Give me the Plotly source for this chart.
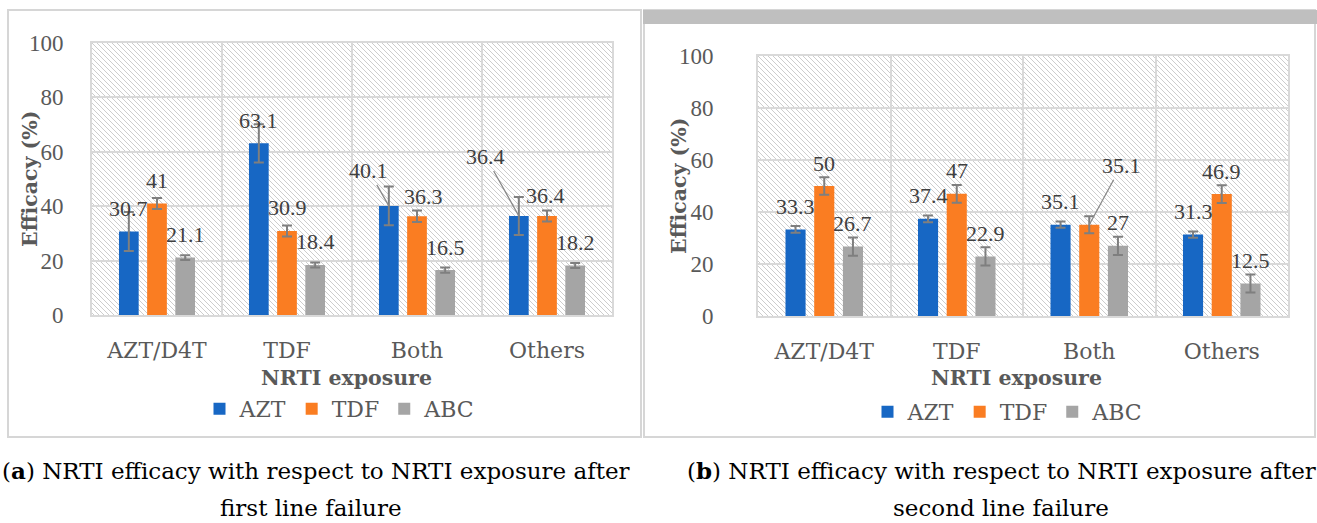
import base64
import plotly.graph_objects as go

# ---------------- data ----------------
categories = ["AZT/D4T", "TDF", "Both", "Others"]
series_names = ["AZT", "TDF", "ABC"]
y_ticks = [0, 20, 40, 60, 80, 100]

# (a) after first line failure
a_azt = [30.7, 63.1, 40.1, 36.4]
a_tdf = [41, 30.9, 36.3, 36.4]
a_abc = [21.1, 18.4, 16.5, 18.2]
a_azt_err = [7.2, 7.0, 7.1, 7.0]
a_tdf_err = [2.0, 2.0, 2.1, 2.0]
a_abc_err = [0.9, 0.9, 1.0, 0.9]

# (b) after second line failure
b_azt = [33.3, 37.4, 35.1, 31.3]
b_tdf = [50, 47, 35.1, 46.9]
b_abc = [26.7, 22.9, 27, 12.5]
b_azt_err = [1.3, 1.3, 1.2, 1.2]
b_tdf_err = [3.4, 3.4, 3.3, 3.4]
b_abc_err = [3.5, 3.5, 3.5, 3.5]

caption_lines = [
    ["(<b>a</b>) NRTI efficacy with respect to NRTI exposure after", "first line failure"],
    ["(<b>b</b>) NRTI efficacy with respect to NRTI exposure after", "second line failure"],
]
y_title = "Efficacy (%)"
x_title = "NRTI exposure"

# ---------------- style ----------------
W, H = 1317, 523
colors = ["#1767C4", "#FA7D22", "#A5A5A5"]
NUM_FONT = "Liberation Serif"
TXT_FONT = "DejaVu Serif"
GRID = "#d9d9d9"
TICK_C = "#595959"
LABEL_C = "#404040"
ERR_C = "#7f7f7f"
BARGAP = 0.35
GROUPGAP = 0.30

# plot areas in pixels: (left, top, right, bottom)
areas = [(92, 43, 612, 315), (758, 56, 1288, 316)]
ytitle_x = [30, 679]
xtitle_x = [347, 1016]
legend_pos = [(340, 409), (1008, 412)]
caption_x = [[316, 311], [1001, 1001]]
caption_y = [470, 508]

# leader-line labels: (panel, series, category) -> (ax, ay) pixels from bar top
arrow_labels = {(0, 0, 2): (-20, -35), (0, 0, 3): (-33, -59), (1, 1, 2): (32, -59)}
# small tweaks for plain labels: (panel, series, category) -> (dx, dy)
label_tweaks = {(0, 1, 2): (6, 20), (0, 1, 3): (-2, 20)}
LABEL_DY = 23


def px_domain(a):
    l, t, r, b = a
    return [l / W, r / W], [1 - b / H, 1 - t / H]


def hatch_uri(w, h):
    svg = (
        f'<svg xmlns="http://www.w3.org/2000/svg" width="{w}" height="{h}">'
        '<defs><pattern id="p" width="5" height="5" patternUnits="userSpaceOnUse">'
        '<path d="M0,0 L5,5 M-1,4 L1,6 M4,-1 L6,1" stroke="#cdcdcd" stroke-width="1"/>'
        '</pattern></defs>'
        f'<rect width="{w}" height="{h}" fill="white"/>'
        f'<rect width="{w}" height="{h}" fill="url(#p)"/></svg>'
    )
    return "data:image/svg+xml;base64," + base64.b64encode(svg.encode()).decode()


panels = [
    ([a_azt, a_tdf, a_abc], [a_azt_err, a_tdf_err, a_abc_err]),
    ([b_azt, b_tdf, b_abc], [b_azt_err, b_tdf_err, b_abc_err]),
]

fig = go.Figure()
annotations = []
images = []
shapes = []

for p, (vals, errs) in enumerate(panels):
    xa = "x" if p == 0 else "x2"
    ya = "y" if p == 0 else "y2"
    for j, name in enumerate(series_names):
        fig.add_trace(go.Bar(
            x=categories, y=vals[j], name=name,
            marker=dict(color=colors[j], line=dict(width=0)),
            error_y=dict(type="data", array=errs[j], visible=True,
                         color=ERR_C, thickness=2, width=5),
            xaxis=xa, yaxis=ya,
            legend="legend" if p == 0 else "legend2",
            showlegend=True,
        ))
        slot = (1 - BARGAP) / 3
        for i, v in enumerate(vals[j]):
            xpos = i + (j - 1) * slot
            key = (p, j, i)
            if key in arrow_labels:
                ax, ay = arrow_labels[key]
                annotations.append(dict(
                    x=xpos, y=v, xref=xa, yref=ya, text=f"{v:g}",
                    showarrow=True, arrowhead=0, arrowwidth=1.3, arrowcolor="#8a8a8a",
                    ax=ax, ay=ay, standoff=0,
                    font=dict(family=NUM_FONT, size=22, color=LABEL_C)))
            else:
                dx, dy = label_tweaks.get(key, (0, LABEL_DY))
                annotations.append(dict(
                    x=xpos, y=v, xref=xa, yref=ya, text=f"{v:g}",
                    showarrow=False, xshift=dx, yshift=dy,
                    xanchor="center", yanchor="middle",
                    font=dict(family=NUM_FONT, size=22, color=LABEL_C)))
    l, t, r, b = areas[p]
    images.append(dict(
        source=hatch_uri(r - l, b - t), xref=xa + " domain", yref=ya + " domain",
        x=0, y=1, sizex=1, sizey=1, xanchor="left", yanchor="top",
        sizing="stretch", layer="below"))

# axes
for p in range(2):
    xd, yd = px_domain(areas[p])
    suffix = "" if p == 0 else "2"
    fig.update_layout(**{
        "xaxis" + suffix: dict(
            domain=xd, anchor="y" + suffix, type="category",
            tickson="boundaries", showgrid=True, gridcolor=GRID, gridwidth=2,
            showline=True, mirror=True, linecolor=GRID, linewidth=2,
            ticks="", ticklabelstandoff=15, automargin=False,
            tickfont=dict(family=TXT_FONT, size=22, color=TICK_C)),
        "yaxis" + suffix: dict(
            domain=yd, anchor="x" + suffix, range=[0, 100], tickvals=y_ticks,
            showgrid=True, gridcolor=GRID, gridwidth=2, zeroline=False,
            showline=True, mirror=True, linecolor=GRID, linewidth=2,
            ticks="", ticklabelstandoff=22 if p == 0 else 38, automargin=False,
            tickfont=dict(family=NUM_FONT, size=23, color=TICK_C)),
    })

# axis titles
for p, (l, t, r, b) in enumerate(areas):
    annotations.append(dict(
        x=ytitle_x[p] / W, y=1 - (t + b) / 2 / H, xref="paper", yref="paper",
        text=f"<b>{y_title}</b>", textangle=-90, showarrow=False,
        xanchor="center", yanchor="middle",
        font=dict(family=TXT_FONT, size=20.5, color=TICK_C)))
    annotations.append(dict(
        x=xtitle_x[p] / W, y=1 - 378 / H, xref="paper", yref="paper",
        text=f"<b>{x_title}</b>", showarrow=False, xanchor="center", yanchor="middle",
        font=dict(family=TXT_FONT, size=20.5, color=TICK_C)))

# captions
for p in range(2):
    for k, line in enumerate(caption_lines[p]):
        annotations.append(dict(
            x=caption_x[p][k] / W, y=1 - caption_y[k] / H, xref="paper", yref="paper",
            text=line, showarrow=False, xanchor="center", yanchor="middle",
            font=dict(family=TXT_FONT, size=23, color="#000000")))

# panel frames
shapes.append(dict(type="rect", xref="paper", yref="paper",
                   x0=8 / W, x1=641 / W, y0=1 - 437 / H, y1=1 - 10 / H,
                   line=dict(color="#d6d6d6", width=2), fillcolor="rgba(0,0,0,0)", layer="below"))
shapes.append(dict(type="rect", xref="paper", yref="paper",
                   x0=644 / W, x1=1315 / W, y0=1 - 437 / H, y1=1 - 10 / H,
                   line=dict(color="#d6d6d6", width=2), fillcolor="rgba(0,0,0,0)", layer="below"))
shapes.append(dict(type="rect", xref="paper", yref="paper",
                   x0=643 / W, x1=1317 / W, y0=1 - 24 / H, y1=1 - 10 / H,
                   line=dict(width=0), fillcolor="#bfbfbf", layer="below"))

legend_common = dict(orientation="h", xanchor="center", yanchor="middle",
                     font=dict(family=TXT_FONT, size=22, color=TICK_C),
                     bgcolor="rgba(0,0,0,0)", itemclick=False, itemwidth=30)

fig.update_layout(
    width=W, height=H, margin=dict(l=0, r=0, t=0, b=0),
    paper_bgcolor="white", plot_bgcolor="rgba(0,0,0,0)",
    barmode="group", bargap=BARGAP, bargroupgap=GROUPGAP,
    annotations=annotations, images=images, shapes=shapes,
    legend=dict(x=legend_pos[0][0] / W, y=1 - legend_pos[0][1] / H, **legend_common),
    legend2=dict(x=legend_pos[1][0] / W, y=1 - legend_pos[1][1] / H, **legend_common),
    font=dict(family=TXT_FONT),
)

fig.write_html("out.html", config={"displayModeBar": False})
